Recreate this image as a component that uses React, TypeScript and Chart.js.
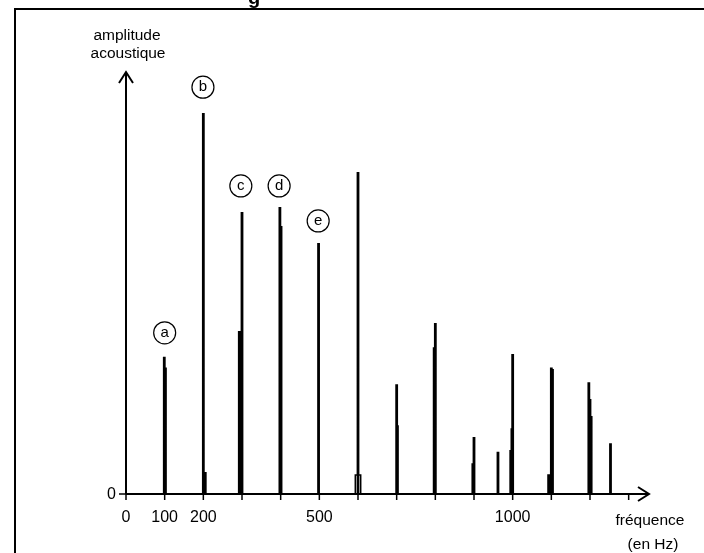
import { useEffect, useRef } from "react";
import { Chart, registerables } from "chart.js";

Chart.register(...registerables);

// Spectral lines: frequency (Hz) and amplitude (arbitrary units, 0–10)
const peakFreqs = [99, 102, 200, 205, 293, 300, 398, 401, 498, 600, 700, 702, 797, 800, 897, 900, 962, 995, 998, 1000, 1093, 1100, 1103, 1197, 1200, 1203, 1253];
const peakAmps = [3.25, 3.0, 9.03, 0.52, 3.86, 6.68, 6.8, 6.35, 5.95, 7.63, 2.6, 1.63, 3.48, 4.05, 0.73, 1.35, 1.0, 1.04, 1.56, 3.32, 0.47, 3.0, 2.96, 2.65, 2.25, 1.85, 1.2];

// small box at the foot of the 600 Hz line
const boxFreqs = [593, 607];
const boxAmp = 0.45;

// Axis ticks
const xTickValues = [0, 100, 200, 300, 400, 500, 600, 700, 800, 900, 1000, 1100, 1200, 1300];
const xTickLabels = ["0", "100", "200", "", "", "500", "", "", "", "", "1000", "", "", ""];
const yTickValues = [0];
const yTickLabels = ["0"];

// Circled labels
const markLetters = ["a", "b", "c", "d", "e"];
const markFreqs = [100, 199, 297, 396, 497];
const markAmps = [3.82, 9.64, 7.3, 7.3, 6.47];

const FONT = "'Liberation Sans', Arial, sans-serif";

export default function App() {
  const ref = useRef<HTMLCanvasElement | null>(null);

  useEffect(() => {
    document.body.style.margin = "0";
    const canvas = ref.current;
    if (!canvas) return;

    const spikes: any[] = [];
    peakFreqs.forEach((f, i) => {
      spikes.push({ x: f, y: 0 }, { x: f, y: peakAmps[i] }, { x: f, y: null });
    });
    const box = [
      { x: boxFreqs[0], y: 0 },
      { x: boxFreqs[0], y: boxAmp },
      { x: boxFreqs[1], y: boxAmp },
      { x: boxFreqs[1], y: 0 },
    ];

    const decor = {
      id: "decor",
      afterDatasetsDraw(chart: any) {
        const ctx = chart.ctx;
        const xs = chart.scales.x;
        const ys = chart.scales.y;
        const x0 = xs.getPixelForValue(0);
        const y0 = ys.getPixelForValue(0);
        const xEnd = xs.right + 1;
        const yEnd = ys.top;
        ctx.save();
        ctx.strokeStyle = "#000";
        ctx.fillStyle = "#000";
        // frame
        ctx.lineWidth = 2;
        ctx.beginPath();
        ctx.moveTo(15, 560);
        ctx.lineTo(15, 9);
        ctx.lineTo(710, 9);
        ctx.stroke();
        // title fragment (cropped)
        ctx.font = `bold 20px ${FONT}`;
        ctx.textAlign = "center";
        ctx.textBaseline = "alphabetic";
        ctx.fillText("g", 254, 4);
        // axes
        ctx.lineWidth = 2;
        ctx.beginPath();
        ctx.moveTo(x0, y0);
        ctx.lineTo(x0, yEnd);
        ctx.moveTo(x0, y0);
        ctx.lineTo(xEnd, y0);
        ctx.stroke();
        // arrows
        ctx.beginPath();
        ctx.moveTo(x0 - 7, yEnd + 11);
        ctx.lineTo(x0, yEnd);
        ctx.lineTo(x0 + 7, yEnd + 11);
        ctx.moveTo(xEnd - 11, y0 - 7);
        ctx.lineTo(xEnd, y0);
        ctx.lineTo(xEnd - 11, y0 + 7);
        ctx.stroke();
        // x ticks
        ctx.lineWidth = 1.5;
        ctx.font = `16px ${FONT}`;
        ctx.textAlign = "center";
        ctx.textBaseline = "middle";
        xTickValues.forEach((v, i) => {
          const px = xs.getPixelForValue(v);
          ctx.beginPath();
          ctx.moveTo(px, y0);
          ctx.lineTo(px, y0 + 6);
          ctx.stroke();
          if (xTickLabels[i]) ctx.fillText(xTickLabels[i], px, y0 + 24);
        });
        // y ticks
        ctx.textAlign = "right";
        yTickValues.forEach((v, i) => {
          const py = ys.getPixelForValue(v);
          ctx.beginPath();
          ctx.moveTo(x0 - 7, py);
          ctx.lineTo(x0, py);
          ctx.stroke();
          ctx.fillText(yTickLabels[i], x0 - 10, py + 1);
        });
        // axis titles
        ctx.font = `15.5px ${FONT}`;
        ctx.textAlign = "center";
        ctx.fillText("amplitude", x0 + 1, 36);
        ctx.fillText("acoustique", x0 + 2, 54);
        ctx.fillText("fréquence", xEnd + 1, 521);
        ctx.fillText("(en Hz)", xEnd + 4, 545);
        // circled letters
        ctx.lineWidth = 1.2;
        ctx.font = `15px ${FONT}`;
        markLetters.forEach((l, i) => {
          const cx = xs.getPixelForValue(markFreqs[i]);
          const cy = ys.getPixelForValue(markAmps[i]);
          ctx.beginPath();
          ctx.arc(cx, cy, 11, 0, Math.PI * 2);
          ctx.stroke();
          ctx.fillText(l, cx, cy);
        });
        ctx.restore();
      },
    };

    const chart = new Chart(canvas, {
      type: "line",
      data: {
        datasets: [
          {
            data: spikes,
            borderColor: "#000",
            borderWidth: 2.8,
            pointRadius: 0,
            spanGaps: false,
            tension: 0,
            fill: false,
          },
          {
            data: box,
            borderColor: "#000",
            borderWidth: 1.5,
            pointRadius: 0,
            tension: 0,
            fill: false,
          },
        ],
      },
      options: {
        responsive: false,
        animation: false,
        events: [],
        layout: { padding: { left: 126, right: 56, top: 72, bottom: 59 } },
        plugins: { legend: { display: false }, tooltip: { enabled: false }, title: { display: false } },
        scales: {
          x: { type: "linear", min: 0, max: 1350, display: false },
          y: { type: "linear", min: 0, max: 10, display: false },
        },
      },
      plugins: [decor],
    });
    return () => chart.destroy();
  }, []);

  return <canvas ref={ref} width={704} height={553} style={{ display: "block" }} />;
}
